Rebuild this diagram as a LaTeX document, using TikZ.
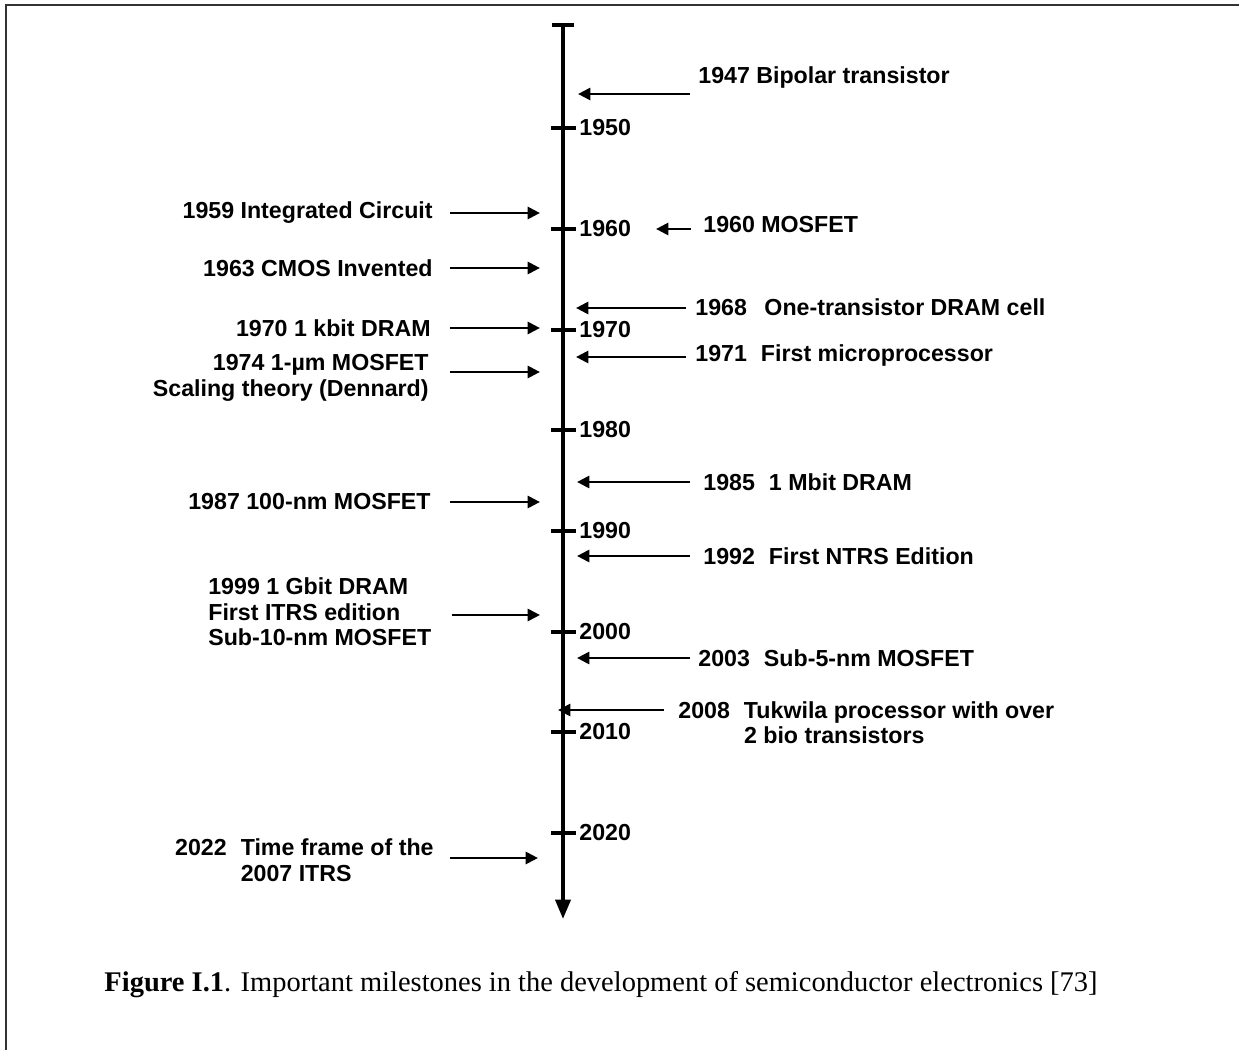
\documentclass[tikz,border=0pt]{standalone}
\usepackage{fontspec}
\setmainfont{Liberation Serif}
\setsansfont{Liberation Sans}
\usepackage{tikz}
\usetikzlibrary{arrows.meta, positioning}
\newcommand{\evtfont}{\sffamily\bfseries\fontsize{13.2}{14.6}\selectfont}
\newcommand{\yrgap}{\hspace{8pt}}

\begin{document}
\begin{tikzpicture}[x=0.02cm, y=-0.02cm,
    evt/.style={font=\evtfont, inner sep=0pt},
    evtl/.style={evt, anchor=east, align=right},
    evtr/.style={evt, anchor=west, align=left},
    ptr/.style={-{Triangle[length=7pt, width=6.8pt]}, line width=1.6pt},
    axis/.style={line width=2.2pt}]
        \useasboundingbox (0,0) rectangle (1239,1050);
        % ── FRAME ──────────────────────────────────
        \draw[line width=1.6pt, black!80] (6,1050) -- (6,5) -- (1239,5);

        % ── TIME AXIS ──────────────────────────────
        \coordinate (top) at (563,25);
        \coordinate (bot) at (563,919);
        \draw[axis] (552,25) -- (574,25);
        \draw[axis, -{Triangle[length=11pt, width=8.5pt]}] (top) -- (bot);
        \foreach \yr/\y in {1950/128, 1960/229, 1970/330, 1980/430,
                            1990/531, 2000/632, 2010/732, 2020/833} {
          \draw[line width=1.8pt] (551,\y) -- (576,\y);
          \node[evt, anchor=west] (y\yr) at (579,\y) {\yr};
        }

        % ── RIGHT SIDE MILESTONES ──────────────────
        \node[evtr] (t1947) at (698,78) {1947 Bipolar transistor};
        \coordinate (a1947) at (690,94);
        \coordinate (b1947) at (578,94);
        \draw[ptr] (a1947) -- (b1947);

        \node[evtr] (t1960) at (703,225) {1960 MOSFET};
        \coordinate (a1960) at (691,229);
        \coordinate (b1960) at (656,229);
        \draw[ptr] (a1960) -- (b1960);

        \node[evtr] (t1968) at (695,307) {1968\yrgap\hspace{2pt}One-transistor DRAM cell};
        \coordinate (a1968) at (686,308);
        \draw[ptr] (a1968) -- (576,308);

        \node[evtr] (t1971) at (695,356) {1971\yrgap First microprocessor};
        \coordinate (a1971) at (686,357);
        \draw[ptr] (a1971) -- (576,357);

        \node[evtr] (t1985) at (703,482) {1985\yrgap 1 Mbit DRAM};
        \coordinate (a1985) at (690,482);
        \draw[ptr] (a1985) -- (577,482);

        \node[evtr] (t1992) at (703,556) {1992\yrgap First NTRS Edition};
        \coordinate (a1992) at (690,556);
        \draw[ptr] (a1992) -- (577,556);

        \node[evtr] (t2003) at (698,658) {2003\yrgap Sub-5-nm MOSFET};
        \coordinate (a2003) at (690,658);
        \draw[ptr] (a2003) -- (577,658);

        \node[evtr, anchor=north west] (t2008) at (678,701)
          {2008\yrgap Tukwila processor with over\\\phantom{2008\yrgap}2 bio transistors};
        \coordinate (a2008) at (664,710);
        \draw[ptr] (a2008) -- (558,710);

        % ── LEFT SIDE MILESTONES ───────────────────
        \node[evtl] (t1959) at (433,213) {1959 Integrated Circuit};
        \coordinate (a1959) at (450,213);
        \draw[ptr] (a1959) -- (540,213);

        \node[evtl] (t1963) at (433,268) {1963 CMOS Invented};
        \coordinate (a1963) at (450,268);
        \draw[ptr] (a1963) -- (540,268);

        \node[evtl] (t1970) at (431,328) {1970 1 kbit DRAM};
        \coordinate (a1970) at (450,328);
        \draw[ptr] (a1970) -- (540,328);

        \node[evtl] (t1974) at (429,378) {1974 1-\textmu m MOSFET\\Scaling theory (Dennard)};
        \coordinate (a1974) at (450,372);
        \draw[ptr] (a1974) -- (540,372);

        \node[evtl] (t1987) at (431,502) {1987 100-nm MOSFET};
        \coordinate (a1987) at (450,502);
        \draw[ptr] (a1987) -- (540,502);

        \node[evtr] (t1999) at (208,612) {1999 1 Gbit DRAM\\First ITRS edition\\Sub-10-nm MOSFET};
        \coordinate (a1999) at (452,615);
        \draw[ptr] (a1999) -- (540,615);

        \node[evt, anchor=east, align=left] (t2022) at (434,860)
          {2022\yrgap Time frame of the\\\phantom{2022\yrgap}2007 ITRS};
        \coordinate (a2022) at (450,858);
        \draw[ptr] (a2022) -- (538,858);

        % ── CAPTION ────────────────────────────────
        \node[font=\fontsize{16.2}{19}\selectfont, inner sep=0pt] (caption) at (601,985)
          {\textbf{Figure I.1}. Important milestones in the development of semiconductor electronics [73]};
\end{tikzpicture}
\end{document}
